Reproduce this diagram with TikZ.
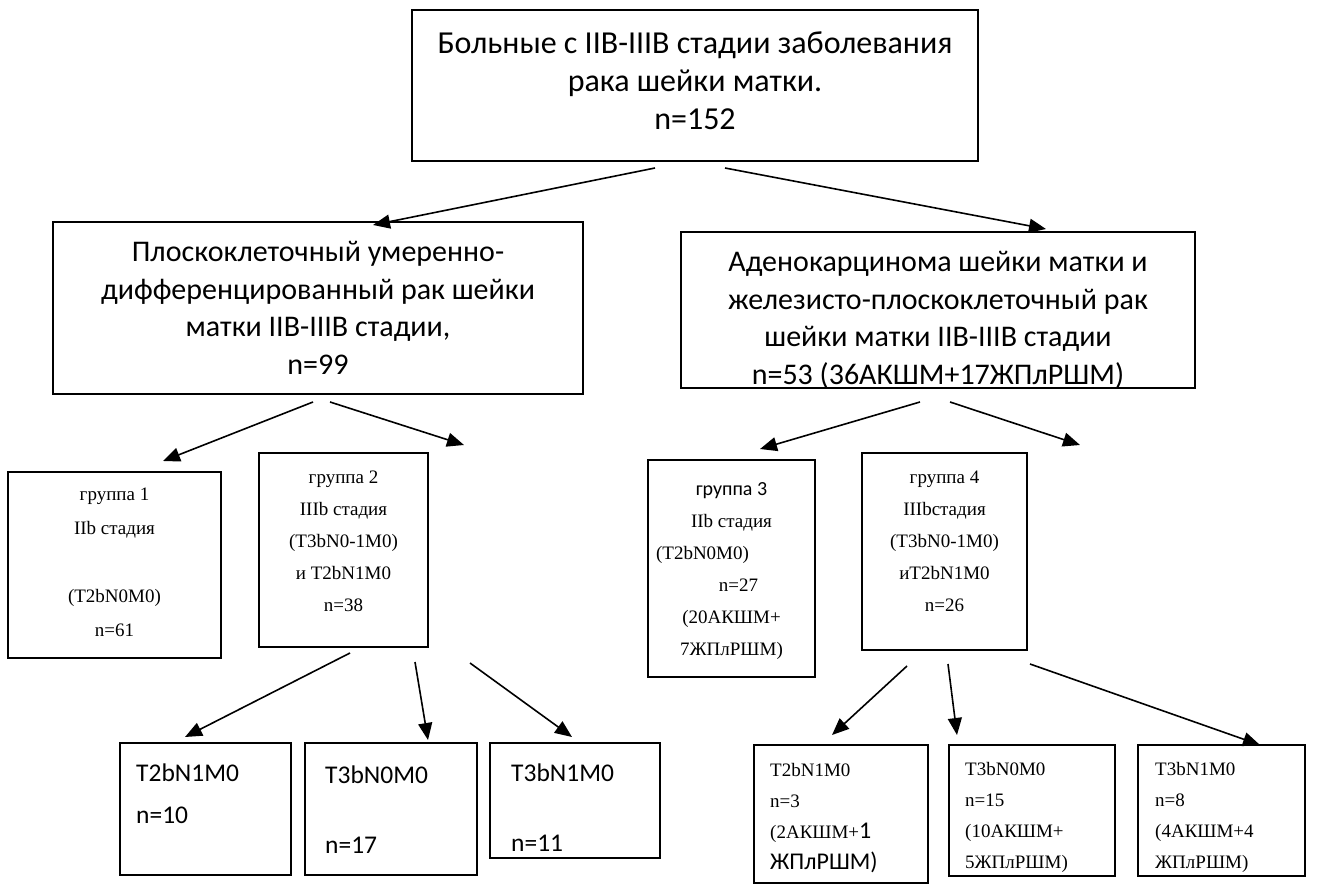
\documentclass[tikz,border=0pt]{standalone}
\usepackage{fontspec}
\setmainfont{Liberation Serif}
\newfontfamily\calfont{Carlito}
\usetikzlibrary{arrows.meta,calc}
\tikzset{
  box/.style={draw, line width=1.6pt, inner sep=0pt, outer sep=0pt},
  arr/.style={-{Triangle[length=17pt,width=14pt]}, line width=1.6pt},
  bigtxt/.style={font=\calfont\fontsize{30}{37.5}\selectfont, align=center, inner sep=0pt},
  grptxt/.style={font=\fontsize{19}{32}\selectfont, align=center, inner sep=0pt},
  leaftxt/.style={font=\calfont\fontsize{25.5}{42}\selectfont, align=left, inner sep=0pt, anchor=west},
  smalltxt/.style={font=\fontsize{19}{31}\selectfont, align=left, inner sep=0pt, anchor=west}
}
\newcommand{\calone}[1]{{\calfont\fontsize{24}{31}\selectfont #1}}
\begin{document}
\begin{tikzpicture}[x=1pt,y=-1pt]
\useasboundingbox (0,0) rectangle (1317,893);
% boxes
\node[box, minimum width=566pt, minimum height=151pt] (top) at (695,85.5) {};
\node[bigtxt, font=\calfont\fontsize{32}{38}\selectfont] (toptxt) at (695,81) {Больные с IIB-IIIB стадии заболевания\\рака шейки матки.\\n=152};
\node[box, minimum width=530pt, minimum height=172pt] (left) at (318,308) {};
\node[bigtxt] (lefttxt) at (318,308) {Плоскоклеточный умеренно-\\дифференцированный рак шейки\\матки IIB-IIIB стадии,\\n=99};
\node[box, minimum width=514pt, minimum height=156pt] (right) at (938,310) {};
\node[bigtxt] (righttxt) at (938,320) {Аденокарцинома шейки матки и\\железисто-плоскоклеточный рак\\шейки матки IIB-IIIB стадии\\n=53 (36АКШМ+17ЖПлРШМ)};
% groups
\node[box, minimum width=213pt, minimum height=186pt] (g1) at (114.5,565) {};
\node[grptxt, font=\fontsize{19}{34}\selectfont] (g1txt) at (114.5,562) {группа 1\\IIb стадия\\[34pt](T2bN0M0)\\n=61};
\node[box, minimum width=169pt, minimum height=194pt] (g2) at (343.5,550) {};
\node[grptxt] (g2txt) at (343.5,541) {группа 2\\IIIb стадия\\(T3bN0-1M0)\\и T2bN1M0\\n=38};
\node[box, minimum width=167pt, minimum height=217pt] (g3) at (731.5,568.5) {};
\node[grptxt] (g3txt) at (731.5,571) {{\calfont\fontsize{20}{32}\selectfont группа 3}\\IIb стадия\\(T2bN0M0)\kern58pt\mbox{}\\\kern14pt n=27\\(20АКШМ+\\7ЖПлРШМ)};
\node[box, minimum width=165pt, minimum height=197pt] (g4) at (944.5,551.5) {};
\node[grptxt] (g4txt) at (944.5,541) {группа 4\\IIIbстадия\\(T3bN0-1M0)\\иT2bN1M0\\n=26};
% leaves left
\node[box, minimum width=171pt, minimum height=132pt] (b1) at (205.5,809) {};
\node[leaftxt] (b1txt) at (136,794) {T2bN1M0\\n=10};
\node[box, minimum width=172pt, minimum height=132pt] (b2) at (391,809) {};
\node[leaftxt, font=\calfont\fontsize{25.5}{70}\selectfont] (b2txt) at (325,810) {T3bN0M0\\n=17};
\node[box, minimum width=170pt, minimum height=115pt] (b3) at (575,800.5) {};
\node[leaftxt, font=\calfont\fontsize{25.5}{70}\selectfont] (b3txt) at (511,808) {T3bN1M0\\n=11};
% leaves right
\node[box, minimum width=174pt, minimum height=138pt] (br1) at (841,814) {};
\node[smalltxt] (br1txt) at (770,818) {T2bN1M0\\n=3\\(2АКШМ+\calone{1}\\\calone{ЖПлРШМ)}};
\node[box, minimum width=166pt, minimum height=131pt] (br2) at (1032,810.5) {};
\node[smalltxt] (br2txt) at (965,817) {T3bN0M0\\n=15\\(10АКШМ+\\5ЖПлРШМ)};
\node[box, minimum width=167pt, minimum height=131pt] (br3) at (1221.5,810.5) {};
\node[smalltxt] (br3txt) at (1155,817) {T3bN1M0\\n=8\\(4АКШМ+4\\ЖПлРШМ)};
% connector end points
\coordinate (a1s) at (655,168); \coordinate (a1e) at (373,225);
\coordinate (a2s) at (725,168); \coordinate (a2e) at (1046,229);
\coordinate (a3s) at (313,402); \coordinate (a3e) at (163,461);
\coordinate (a4s) at (330,402); \coordinate (a4e) at (464,445);
\coordinate (a5s) at (920,402); \coordinate (a5e) at (760,449);
\coordinate (a6s) at (950,402); \coordinate (a6e) at (1080,445);
\coordinate (a7s) at (350,653); \coordinate (a7e) at (185,737);
\coordinate (a8s) at (415,662); \coordinate (a8e) at (428,740);
\coordinate (a9s) at (470,663); \coordinate (a9e) at (572,737);
\coordinate (a10s) at (907,666); \coordinate (a10e) at (832,735);
\coordinate (a11s) at (948,664); \coordinate (a11e) at (957,735);
\coordinate (a12s) at (1030,664); \coordinate (a12e) at (1260,745);
\foreach \i in {1,...,12} {\draw[arr] (a\i s) -- (a\i e);}
\end{tikzpicture}
\end{document}
